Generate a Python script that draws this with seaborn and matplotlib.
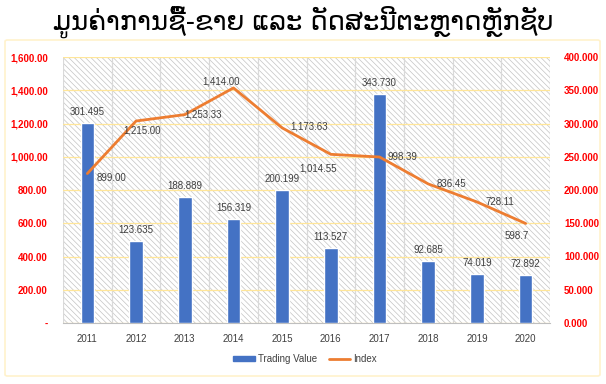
import matplotlib
matplotlib.use("Agg")
import matplotlib.pyplot as plt
import matplotlib.ticker as mticker
from matplotlib.patches import Rectangle, FancyBboxPatch, Patch
from matplotlib.lines import Line2D
import seaborn as sns
import pandas as pd
import numpy as np

# chart data
years = ["2011", "2012", "2013", "2014", "2015", "2016", "2017", "2018", "2019", "2020"]
trading_value = [301.495, 123.635, 188.889, 156.319, 200.199, 113.527, 343.730, 92.685, 74.019, 72.892]
index_value = [899.00, 1215.00, 1253.33, 1414.00, 1173.63, 1014.55, 998.39, 836.45, 728.11, 598.7]
index_labels = ["899.00", "1,215.00", "1,253.33", "1,414.00", "1,173.63", "1,014.55",
                "998.39", "836.45", "728.11", "598.7"]

title = "ມູນຄ່າການຊື້-ຂາຍ ແລະ ດັດສະນີຕະຫຼາດຫຼັກຊັບ"

df = pd.DataFrame({"year": years, "trading": trading_value, "index": index_value})

BLUE = "#4472C4"
ORANGE = "#ED7D31"
RED = "#FF0000"
GREY_TXT = "#404040"
FONT = "Liberation Sans"

sns.set_style("white")
plt.rcParams["font.family"] = [FONT, "DejaVu Sans"]
plt.rcParams["hatch.linewidth"] = 0.5

fig = plt.figure(figsize=(6.06, 3.84), dpi=100)
fig.patch.set_facecolor("white")

# outer chart border
fig.patches.append(FancyBboxPatch((5 / 606, 1 - 376 / 384), 595 / 606, 336 / 384,
                                  boxstyle="round,pad=0,rounding_size=0.004",
                                  transform=fig.transFigure, facecolor="none",
                                  edgecolor="#FFF2CC", linewidth=1.2))

# bars on the secondary axis (right), line on the primary (left)
ax2 = fig.add_axes([63 / 606, 1 - 323 / 384, 487 / 606, 266 / 384])
ax = ax2.twinx()
ax.yaxis.tick_left()
ax.yaxis.set_label_position("left")
ax2.yaxis.tick_right()
ax2.yaxis.set_label_position("right")

# hatched plot area
ax2.add_patch(Rectangle((0, 0), 1, 1, transform=ax2.transAxes, fill=False,
                        hatch="\\\\\\\\\\\\", edgecolor="#C4C4C4", linewidth=0, zorder=0))

sns.barplot(data=df, x="year", y="trading", color=BLUE, width=0.28,
            saturation=1, ax=ax2, zorder=3)
sns.lineplot(data=df, x="year", y="index", color=ORANGE, linewidth=2, ax=ax,
             sort=False, zorder=4)

ax2.set_ylim(0, 400)
ax.set_ylim(0, 1600)
ax2.set_xlim(-0.5, len(years) - 0.5)
ax.set_xlim(-0.5, len(years) - 0.5)

ax2.yaxis.set_major_locator(mticker.MultipleLocator(50))
ax.yaxis.set_major_locator(mticker.MultipleLocator(200))
ax2.yaxis.set_major_formatter(mticker.FuncFormatter(lambda v, p: f"{v:.3f}"))
ax.yaxis.set_major_formatter(mticker.FuncFormatter(lambda v, p: "-" if v == 0 else f"{v:,.2f}"))

for a in (ax, ax2):
    a.set_xlabel("")
    a.set_ylabel("")
    for s in a.spines.values():
        s.set_visible(False)
ax2.spines["bottom"].set_visible(True)
ax2.spines["bottom"].set_color("#BFBFBF")

ax.tick_params(axis="y", length=0, pad=11, labelsize=7, labelcolor=RED)
ax2.tick_params(axis="y", length=0, pad=10, labelsize=7, labelcolor=RED)
for lab in ax.get_yticklabels() + ax2.get_yticklabels():
    lab.set_fontweight("bold")

# gridlines behind the bars: gold horizontals, grey verticals at category boundaries
ax.grid(False)
ax2.set_axisbelow(True)
ax2.grid(axis="y", which="major", color="#FFE699", linewidth=0.9)
ax2.set_xticks(np.arange(-0.5, len(years), 1), minor=True)
ax2.grid(axis="x", which="minor", color="#D9D9D9", linewidth=0.9)
ax2.grid(axis="x", which="major", visible=False)
ax2.tick_params(axis="x", which="minor", length=4, color="#BFBFBF", direction="out")
ax2.tick_params(axis="x", which="major", length=0, pad=8, labelsize=7, labelcolor=GREY_TXT)
ax.tick_params(axis="x", which="both", length=0, labelbottom=False)

ax.set_zorder(ax2.get_zorder() + 1)
ax.patch.set_visible(False)

# bar value labels
for i, v in enumerate(df["trading"]):
    ax2.annotate(f"{v:.3f}", xy=(i, v), xytext=(0, 11), textcoords="offset pixels",
                 ha="center", va="center", fontsize=7, color=GREY_TXT, zorder=5)

# index labels with hand placed offsets (pixels)
offsets = [(24, -4), (6, -9), (18, 0), (-12, 6), (27, 1),
           (-13, -14), (23, 0), (23, 0), (23, 0), (-9, -13)]
for i, (v, txt) in enumerate(zip(df["index"], index_labels)):
    ax.annotate(txt, xy=(i, v), xytext=offsets[i], textcoords="offset pixels",
                ha="center", va="center", fontsize=7, color=GREY_TXT, zorder=6)

# legend
handles = [Patch(facecolor=BLUE, edgecolor=BLUE), Line2D([0], [0], color=ORANGE, linewidth=2)]
leg = fig.legend(handles, ["Trading Value", "Index"], loc="center",
                 bbox_to_anchor=(305 / 606, 1 - 359 / 384), ncol=2, frameon=False,
                 fontsize=7, handlelength=2.2, handleheight=0.45, columnspacing=1.2,
                 handletextpad=0.3)
for t in leg.get_texts():
    t.set_color(GREY_TXT)

fig.text(0.5, 1 - 22 / 384, title, ha="center", va="center", fontsize=18.5,
         family=["DejaVu Sans"], color="black")

fig.savefig("out.png", dpi=100)
